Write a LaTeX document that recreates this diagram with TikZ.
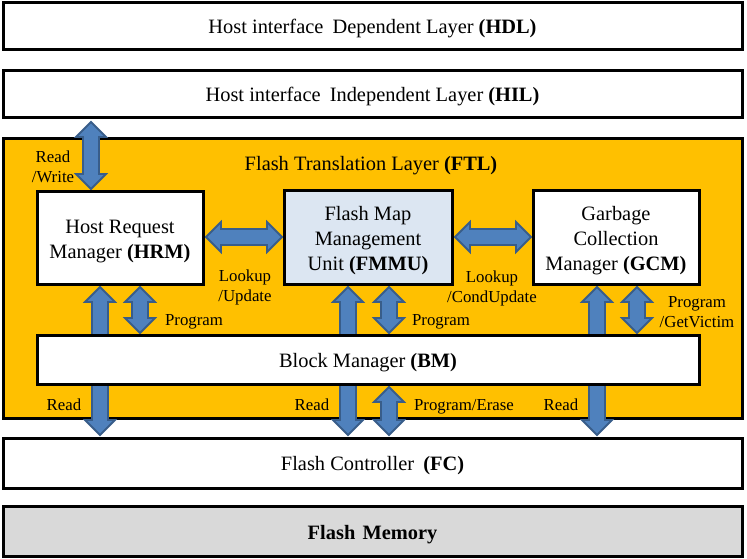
\documentclass[tikz,border=0pt]{standalone}
\usepackage{fontspec}
\setmainfont{Liberation Serif}
\usetikzlibrary{calc}
\definecolor{ftlyellow}{HTML}{FFC000}
\definecolor{arrfill}{HTML}{4F81BD}
\definecolor{arrline}{HTML}{385D8A}
\definecolor{fmmublue}{HTML}{DCE6F2}
\definecolor{memgray}{HTML}{D9D9D9}
\newcommand\dblarr[2]{%
  \path ($(#1)!15pt!(#2)$) coordinate (ha) ($(#2)!15pt!(#1)$) coordinate (hb);
  \filldraw[blockarrow] (#1) -- ($(ha)!15pt!90:(#2)$) -- ($(ha)!8pt!90:(#2)$)
    -- ($(hb)!8pt!90:(#2)$) -- ($(hb)!15pt!90:(#2)$) -- (#2)
    -- ($(hb)!15pt!-90:(#2)$) -- ($(hb)!8pt!-90:(#2)$)
    -- ($(ha)!8pt!-90:(#2)$) -- ($(ha)!15pt!-90:(#2)$) -- cycle;}
\tikzset{
  box/.style={draw=black, line width=3pt, fill=white, inner sep=0pt},
  boxtext/.style={inner sep=0pt, align=center, font=\fontsize{20.4}{25}\selectfont},
  lbl/.style={inner sep=0pt, align=center, font=\fontsize{16.8}{20}\selectfont},
  blockarrow/.style={fill=arrfill, draw=arrline, line width=1.8pt, line join=miter},
}
\begin{document}
\begin{tikzpicture}[x=1pt,y=-1pt]
\useasboundingbox (0,0) rectangle (747,558);
% layers
\node[box, minimum width=739pt, minimum height=47pt] (hdl) at (372.5,25.5) {};
\node[boxtext] (hdlt) at ([yshift=-3.5pt]hdl.center)
  {Host interface\hspace{0.2em} Dependent Layer \textbf{(HDL)}};
\node[box, minimum width=739pt, minimum height=47pt] (hil) at (372.5,93.5) {};
\node[boxtext] (hilt) at ([yshift=-3.5pt]hil.center)
  {Host interface\hspace{0.2em} Independent Layer \textbf{(HIL)}};
\node[box, fill=ftlyellow, minimum width=739pt, minimum height=280pt] (ftl) at (372.5,278) {};
\node[boxtext] (ftlt) at (371,166) {Flash Translation Layer \textbf{(FTL)}};
\node[box, minimum width=739pt, minimum height=50pt] (fc) at (372.5,463) {};
\node[boxtext] (fct) at ([yshift=-3pt]fc.center) {Flash Controller\hspace{0.2em} \textbf{(FC)}};
\node[box, fill=memgray, minimum width=739pt, minimum height=50pt] (fm) at (372.5,531) {};
\node[boxtext] (fmt) at ([yshift=-4pt]fm.center) {\textbf{Flash\hspace{0.1em} Memory}};
% coordinates for arrows
\coordinate (rwA) at (91,122);
\coordinate (rwB) at (91,189);
\coordinate (hfA) at (206,237);
\coordinate (hfB) at (282,237);
\coordinate (fgA) at (455,237);
\coordinate (fgB) at (531,237);
\coordinate (r1A) at (100,435);
\coordinate (r1B) at (100,287);
\coordinate (p1A) at (140,287);
\coordinate (p1B) at (140,333);
\coordinate (r2A) at (348,435);
\coordinate (r2B) at (348,287);
\coordinate (p2A) at (389,287);
\coordinate (p2B) at (389,333);
\coordinate (peA) at (389,387);
\coordinate (peB) at (389,435);
\coordinate (r3A) at (597,435);
\coordinate (r3B) at (597,287);
\coordinate (p3A) at (637,287);
\coordinate (p3B) at (637,333);
% arrows behind block manager
\dblarr{rwA}{rwB}
\dblarr{r1A}{r1B}
\dblarr{r2A}{r2B}
\dblarr{r3A}{r3B}
\dblarr{p1A}{p1B}
\dblarr{p2A}{p2B}
\dblarr{peA}{peB}
\dblarr{p3A}{p3B}
\dblarr{hfA}{hfB}
\dblarr{fgA}{fgB}
% inner boxes
\node[box, minimum width=166pt, minimum height=93pt] (hrm) at (120,237.5) {};
\node[boxtext] (hrmt) at ([yshift=-4.5pt]hrm.center) {Host Request\\Manager \textbf{(HRM)}};
\node[box, fill=fmmublue, minimum width=168pt, minimum height=94pt] (fmmu) at (368,237) {};
\node[boxtext] (fmmut) at ([yshift=-3.5pt]fmmu.center) {Flash Map\\Management\\Unit \textbf{(FMMU)}};
\node[box, minimum width=166pt, minimum height=94pt] (gcm) at (616,237) {};
\node[boxtext] (gcmt) at ([yshift=-3.5pt]gcm.center) {Garbage\\Collection\\Manager \textbf{(GCM)}};
\node[box, minimum width=662pt, minimum height=49pt] (bm) at (368,359.5) {};
\node[boxtext] (bmt) at ([yshift=-3pt]bm.center) {Block Manager \textbf{(BM)}};
% labels
\node[lbl] (lrw) at (53,167) {Read\\/Write};
\node[lbl] (llu1) at (245,287) {Lookup\\/Update};
\node[lbl] (lpg1) at (194,322) {Program};
\node[lbl] (llu2) at (492,288) {Lookup\\/CondUpdate};
\node[lbl] (lpg2) at (441,322) {Program};
\node[lbl] (lpg3) at (697,312) {Program\\/GetVictim};
\node[lbl] (lrd1) at (64,405) {Read};
\node[lbl] (lrd2) at (312,405) {Read};
\node[lbl] (lpe) at (464,407) {Program/Erase};
\node[lbl] (lrd3) at (561,405) {Read};
\end{tikzpicture}
\end{document}
